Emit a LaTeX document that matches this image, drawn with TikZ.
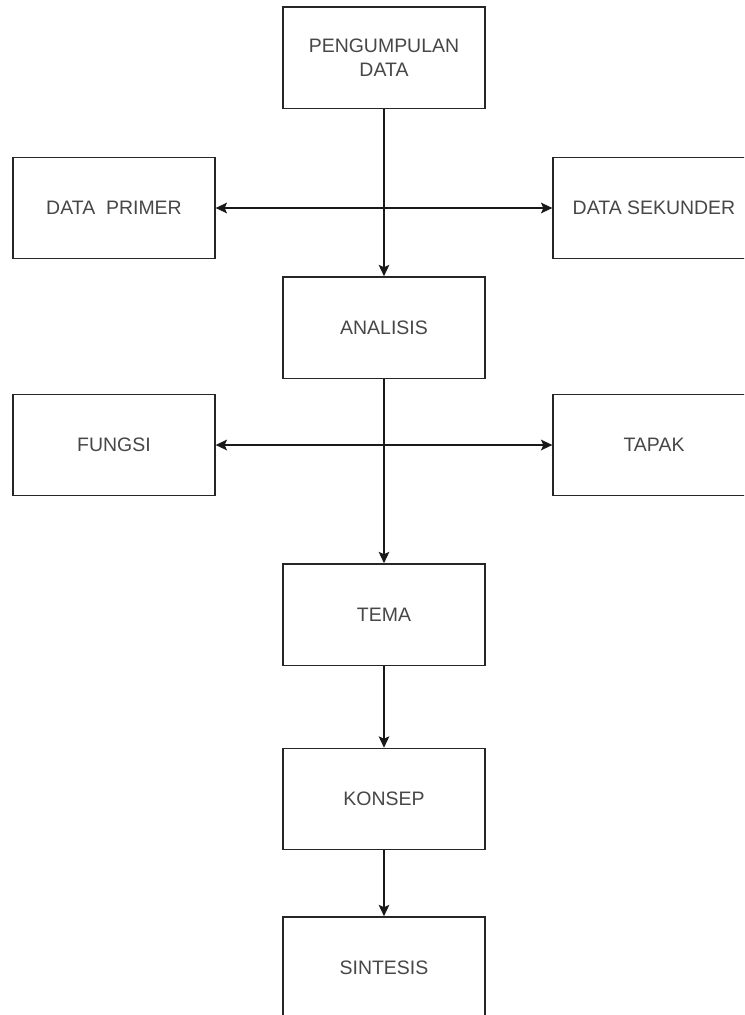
\documentclass[tikz,border=0pt]{standalone}
\usepackage{fontspec}
\setmainfont{Liberation Sans}
\usetikzlibrary{arrows.meta}
\begin{document}
\begin{tikzpicture}[x=0.75pt,y=-0.75pt,
  txt/.style={font=\fontsize{14.6}{18}\selectfont,text=black!72,align=center,inner sep=0pt},
  box/.style={txt,draw=black!85,line width=1pt,minimum width=151.5pt,minimum height=76pt,fill=white},
  tip/.tip={Stealth[length=8.5pt,width=8pt,inset=1.8pt]},
  arr/.style={draw=black!90,line width=1pt,-tip},
  darr/.style={draw=black!90,line width=1pt,tip-tip}
]
\clip (0,0) rectangle (744,1015);
\fill[white] (0,0) rectangle (744,1015);
\node[box] (peng) at (384,57.5) {PENGUMPULAN\\DATA};
\node[box] (prim) at (114,208) {DATA\ \ PRIMER};
\node[box] (sek) at (654,208) {DATA SEKUNDER};
\node[box] (ana) at (384,327.5) {ANALISIS};
\node[box] (fun) at (114,445) {FUNGSI};
\node[box] (tap) at (654,445) {TAPAK};
\node[box] (tema) at (384,614.5) {TEMA};
\node[box] (kon) at (384,799) {KONSEP};
\node[box] (sin) at (384,967.5) {SINTESIS};
\draw[darr] (prim.east) -- (sek.west);
\draw[darr] (fun.east) -- (tap.west);
\draw[arr] (peng.south) -- (ana.north);
\draw[arr] (ana.south) -- (tema.north);
\draw[arr] (tema.south) -- (kon.north);
\draw[arr] (kon.south) -- (sin.north);
\end{tikzpicture}
\end{document}
